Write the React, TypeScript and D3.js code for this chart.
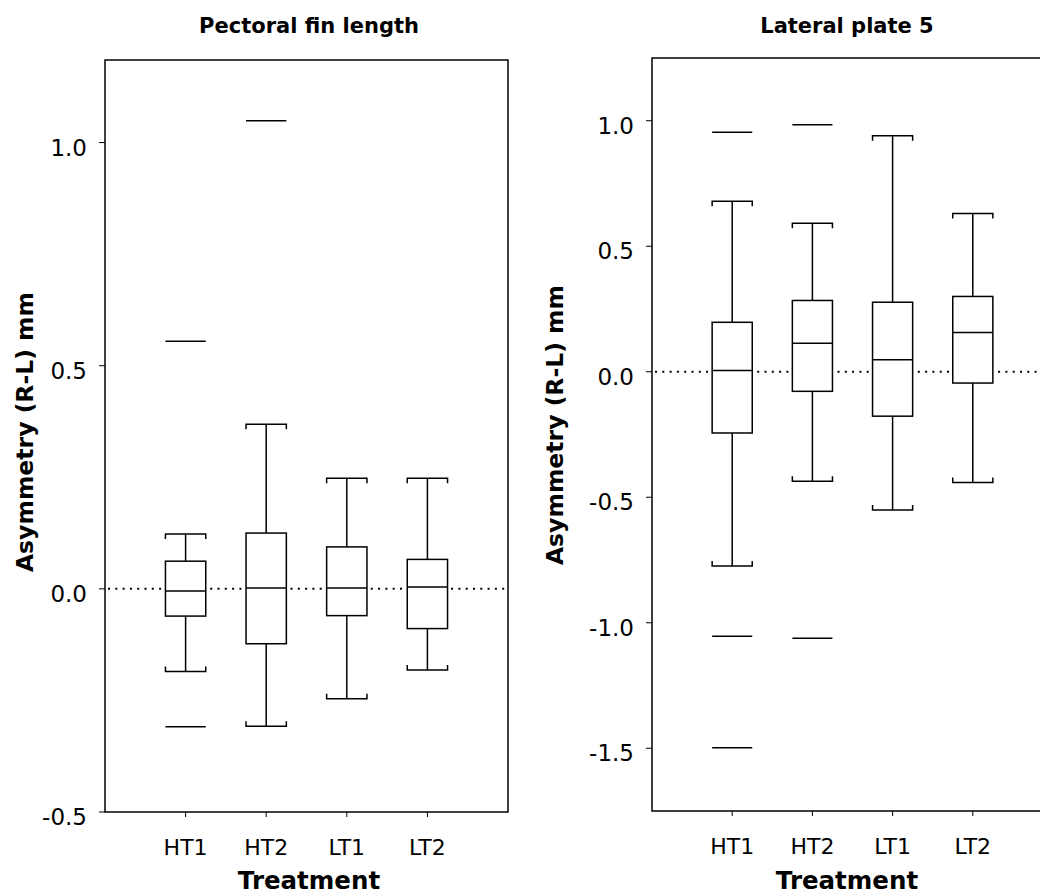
import React from "react";
import * as d3 from "d3";

const categories = ["HT1", "HT2", "LT1", "LT2"];

// Pectoral fin length
const pectoralLowerWhisker = [-0.185, -0.308, -0.246, -0.182];
const pectoralQ1 = [-0.061, -0.123, -0.06, -0.089];
const pectoralMedian = [-0.005, 0.002, 0.002, 0.004];
const pectoralQ3 = [0.062, 0.125, 0.094, 0.066];
const pectoralUpperWhisker = [0.123, 0.369, 0.248, 0.248];
const pectoralOutliers = [[0.555, -0.309], [1.049], [], []];
const pectoralTicks = [-0.5, 0, 0.5, 1.0];

// Lateral plate 5
const lateralLowerWhisker = [-0.774, -0.436, -0.551, -0.441];
const lateralQ1 = [-0.244, -0.078, -0.177, -0.045];
const lateralMedian = [0.005, 0.114, 0.048, 0.156];
const lateralQ3 = [0.197, 0.284, 0.277, 0.3];
const lateralUpperWhisker = [0.679, 0.592, 0.94, 0.63];
const lateralOutliers = [[0.954, -1.054, -1.498], [0.984, -1.062], [], []];
const lateralTicks = [-1.5, -1.0, -0.5, 0, 0.5, 1.0];

const FONT = "'DejaVu Sans', sans-serif";

type PanelProps = {
  title: string;
  x0: number;
  x1: number;
  y0: number;
  y1: number;
  domain: [number, number];
  ticks: number[];
  lower: number[];
  q1: number[];
  median: number[];
  q3: number[];
  upper: number[];
  outliers: number[][];
  titleX: number;
  yTitleX: number;
  yTitleY: number;
};

function Panel(p: PanelProps) {
  const x = d3.scaleLinear().domain([0, 5]).range([p.x0, p.x1]);
  const y = d3.scaleLinear().domain(p.domain).range([p.y1, p.y0]);
  const hw = x(0.25) - x(0);
  const capH = 5;
  const sw = 1.5;
  return (
    <g>
      <text
        x={p.titleX}
        y={33}
        textAnchor="middle"
        fontFamily={FONT}
        fontWeight="bold"
        fontSize={21}
      >
        {p.title}
      </text>
      <rect
        x={p.x0}
        y={p.y0}
        width={p.x1 - p.x0}
        height={p.y1 - p.y0}
        fill="none"
        stroke="#000"
        strokeWidth={sw}
      />
      {/* zero reference dotted line */}
      <line
        x1={p.x0 + 3}
        x2={p.x1}
        y1={y(0)}
        y2={y(0)}
        stroke="#000"
        strokeWidth={2}
        strokeDasharray="2,5.3"
      />
      {/* y ticks */}
      {p.ticks.map((t) => (
        <g key={"yt" + t}>
          <line x1={p.x0 - 6} x2={p.x0} y1={y(t)} y2={y(t)} stroke="#000" strokeWidth={1} />
          <text
            x={p.x0 - 18}
            y={y(t) + 13}
            textAnchor="end"
            fontFamily={FONT}
            fontSize={23}
          >
            {t.toFixed(1)}
          </text>
        </g>
      ))}
      {/* x ticks */}
      {categories.map((c, i) => (
        <g key={"xt" + c}>
          <line x1={x(i + 1)} x2={x(i + 1)} y1={p.y1} y2={p.y1 + 5} stroke="#000" strokeWidth={1} />
          <text
            x={x(i + 1)}
            y={p.y1 + 43}
            textAnchor="middle"
            fontFamily={FONT}
            fontSize={22}
          >
            {c}
          </text>
        </g>
      ))}
      <text
        x={p.titleX}
        y={889}
        textAnchor="middle"
        fontFamily={FONT}
        fontWeight="bold"
        fontSize={24.5}
      >
        Treatment
      </text>
      <text
        transform={`translate(${p.yTitleX},${p.yTitleY}) rotate(-90)`}
        textAnchor="middle"
        fontFamily={FONT}
        fontWeight="bold"
        fontSize={23.5}
      >
        Asymmetry (R-L) mm
      </text>
      {/* boxes */}
      {categories.map((c, i) => {
        const cx = x(i + 1);
        return (
          <g key={"box" + c} stroke="#000" strokeWidth={sw} fill="none">
            <line x1={cx} x2={cx} y1={y(p.q3[i])} y2={y(p.upper[i])} />
            <line x1={cx} x2={cx} y1={y(p.q1[i])} y2={y(p.lower[i])} />
            <path
              d={`M${cx - hw},${y(p.upper[i]) + capH}V${y(p.upper[i])}H${cx + hw}V${y(p.upper[i]) + capH}`}
            />
            <path
              d={`M${cx - hw},${y(p.lower[i]) - capH}V${y(p.lower[i])}H${cx + hw}V${y(p.lower[i]) - capH}`}
            />
            <rect
              x={cx - hw}
              y={y(p.q3[i])}
              width={2 * hw}
              height={y(p.q1[i]) - y(p.q3[i])}
              fill="#fff"
            />
            <line x1={cx - hw} x2={cx + hw} y1={y(p.median[i])} y2={y(p.median[i])} />
            {p.outliers[i].map((o, j) => (
              <line key={j} x1={cx - hw} x2={cx + hw} y1={y(o)} y2={y(o)} />
            ))}
          </g>
        );
      })}
    </g>
  );
}

export default function App() {
  return (
    <svg
      width={1040}
      height={896}
      style={{ position: "absolute", left: 0, top: 0, background: "#fff" }}
    >
      <rect x={0} y={0} width={1040} height={896} fill="#fff" />
      <Panel
        title="Pectoral fin length"
        x0={105}
        x1={508}
        y0={60}
        y1={812}
        domain={[-0.5, 1.185]}
        ticks={pectoralTicks}
        lower={pectoralLowerWhisker}
        q1={pectoralQ1}
        median={pectoralMedian}
        q3={pectoralQ3}
        upper={pectoralUpperWhisker}
        outliers={pectoralOutliers}
        titleX={309}
        yTitleX={33}
        yTitleY={432}
      />
      <Panel
        title="Lateral plate 5"
        x0={652}
        x1={1053}
        y0={58}
        y1={811}
        domain={[-1.75, 1.25]}
        ticks={lateralTicks}
        lower={lateralLowerWhisker}
        q1={lateralQ1}
        median={lateralMedian}
        q3={lateralQ3}
        upper={lateralUpperWhisker}
        outliers={lateralOutliers}
        titleX={847}
        yTitleX={563}
        yTitleY={425}
      />
    </svg>
  );
}
